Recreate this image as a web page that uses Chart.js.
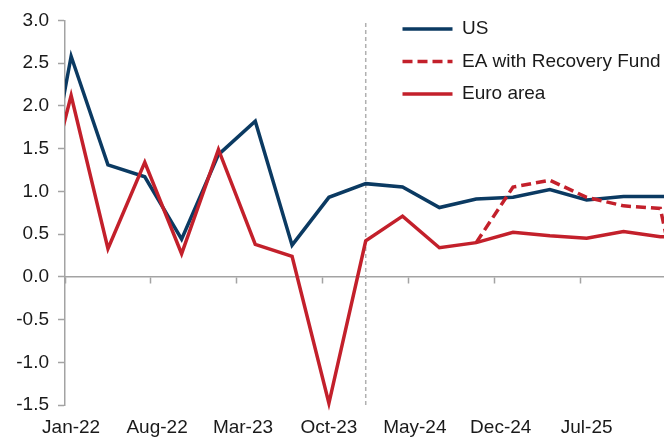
<!DOCTYPE html>
<html>
<head>
<meta charset="utf-8">
<script src="https://cdn.jsdelivr.net/npm/chart.js@4.4.1/dist/chart.umd.min.js"></script>
<style>
html,body{margin:0;padding:0;background:#fff;overflow:hidden}
#wrap{position:relative;width:664px;height:438px}
</style>
</head>
<body>
<div id="wrap"><canvas id="c"></canvas></div>
<script>
// ---- data (quarterly points) ----
const QUARTERS = ['Oct-21','Jan-22','Apr-22','Jul-22','Oct-22','Jan-23','Apr-23','Jul-23','Oct-23',
                  'Jan-24','Apr-24','Jul-24','Oct-24','Jan-25','Apr-25','Jul-25','Oct-25','Jan-26','Apr-26'];
const US               = [0.26, 2.58, 1.31, 1.17, 0.44, 1.43, 1.82, 0.37, 0.93,
                          1.09, 1.05, 0.81, 0.91, 0.93, 1.02, 0.90, 0.94, 0.94, 0.93];
const EURO_AREA        = [0.43, 2.12, 0.33, 1.34, 0.27, 1.49, 0.38, 0.24, -1.48,
                          0.42, 0.71, 0.34, 0.40, 0.52, 0.48, 0.45, 0.53, 0.47, 0.45];
const EA_RECOVERY_FUND = [null, null, null, null, null, null, null, null, null,
                          null, null, null, 0.40, 1.05, 1.13, 0.93, 0.83, 0.80, -1.2];
const SERIES_NAMES = ['US', 'EA with Recovery Fund', 'Euro area'];
const TICK_LABELS = ['Jan-22','Aug-22','Mar-23','Oct-23','May-24','Dec-24','Jul-25'];
const MARKER_DATE = 'Jan-24';
const Y_MIN = -1.5, Y_MAX = 3.0, Y_STEP = 0.5;
const MARKER_TOP = 2.97;

// ---- helpers ----
const MONTHS = ['Jan','Feb','Mar','Apr','May','Jun','Jul','Aug','Sep','Oct','Nov','Dec'];
const AXIS_START_YEAR = 2022;
function monthIndex(s) {
  const [m, y] = s.split('-');
  return (2000 + parseInt(y, 10) - AXIS_START_YEAR) * 12 + MONTHS.indexOf(m);
}
function points(vals) {
  return QUARTERS.map((q, i) => ({ x: monthIndex(q) + 0.5, y: vals[i] }));
}

const FONT = { family: "'Liberation Sans', Arial, Helvetica, sans-serif", size: 19 };
const TEXT = '#1a1a1a';
const AXIS = '#a3a3a3';
const NAVY = '#0b3a62';
const RED = '#c3202b';
const X_MAX = 48.8;
const CLIP = { left: 0, right: 0, top: false, bottom: false };

const legendMover = {
  id: 'legendMover',
  beforeDraw(chart) {
    const lg = chart.legend;
    if (!lg) return;
    lg.left = 389;
    lg.top = 6;
    lg.bottom = 300;
  }
};

new Chart(document.getElementById('c'), {
  type: 'line',
  data: {
    datasets: [
      { label: 'Euro area', data: points(EURO_AREA), borderColor: RED, backgroundColor: RED,
        borderWidth: 3.5, pointRadius: 0, clip: CLIP, tension: 0 },
      { label: 'EA with Recovery Fund', data: points(EA_RECOVERY_FUND), borderColor: RED, backgroundColor: RED,
        borderWidth: 3.5, borderDash: [10, 5], pointRadius: 0, clip: CLIP, tension: 0, spanGaps: false },
      { label: 'US', data: points(US), borderColor: NAVY, backgroundColor: NAVY,
        borderWidth: 3.5, pointRadius: 0, clip: CLIP, tension: 0 },
      { label: 'marker', data: [ { x: monthIndex(MARKER_DATE) + 0.5, y: Y_MIN }, { x: monthIndex(MARKER_DATE) + 0.5, y: MARKER_TOP } ],
        borderColor: '#b0b0b0', backgroundColor: '#b0b0b0', borderWidth: 1.5, borderDash: [4, 3], pointRadius: 0, clip: CLIP }
    ]
  },
  options: {
    responsive: true,
    maintainAspectRatio: false,
    animation: false,
    devicePixelRatio: 1,
    layout: { padding: { top: 19, right: 0, bottom: 0, left: 0 } },
    plugins: {
      tooltip: { enabled: false },
      legend: {
        position: 'chartArea',
        align: 'start',
        labels: {
          boxWidth: 50,
          boxHeight: 0,
          padding: 13.5,
          font: FONT,
          color: TEXT,
          filter: item => SERIES_NAMES.includes(item.text),
          sort: (a, b) => SERIES_NAMES.indexOf(a.text) - SERIES_NAMES.indexOf(b.text)
        }
      }
    },
    scales: {
      x: {
        type: 'linear', position: 'bottom', min: 0, max: X_MAX,
        afterBuildTicks: s => { s.ticks = TICK_LABELS.map(l => ({ value: monthIndex(l) + 0.5 })); },
        ticks: { callback: (v, i) => TICK_LABELS[i], font: FONT, color: TEXT, padding: 11, maxRotation: 0, autoSkip: false },
        grid: { display: false, drawTicks: false },
        border: { display: false },
        afterFit: s => { s.height = 33; }
      },
      x2: {
        type: 'linear', axis: 'x', position: { y: 0 }, min: 0, max: X_MAX,
        afterBuildTicks: s => { s.ticks = TICK_LABELS.map(l => ({ value: monthIndex(l) })); },
        ticks: { display: false },
        grid: { drawOnChartArea: false, drawTicks: true, tickLength: 6, tickColor: AXIS, tickWidth: 1.5 },
        border: { display: true, color: AXIS, width: 1.5 }
      },
      y: {
        min: Y_MIN, max: Y_MAX,
        ticks: { stepSize: Y_STEP, callback: v => Number(v).toFixed(1), font: FONT, color: TEXT, padding: 9 },
        grid: { drawOnChartArea: false, drawTicks: true, tickLength: 7, tickColor: AXIS, tickWidth: 1.5 },
        border: { display: true, color: AXIS, width: 1.5 },
        afterFit: s => { s.width = 65; }
      }
    }
  },
  plugins: [legendMover]
});
</script>
</body>
</html>
